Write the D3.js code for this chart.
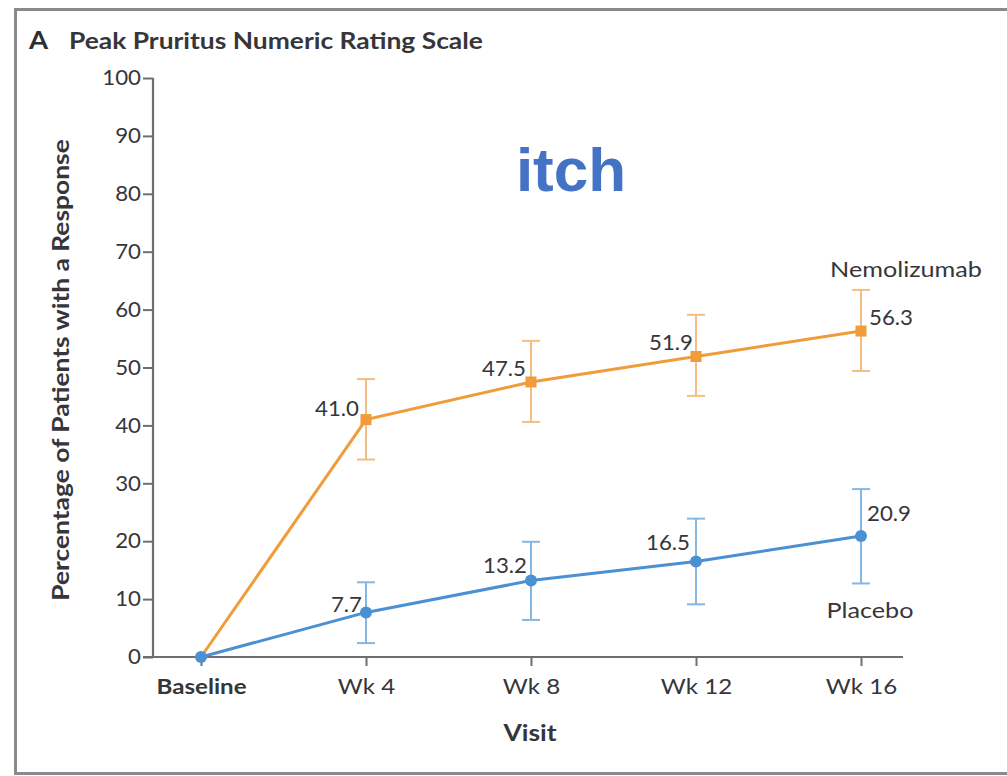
<!DOCTYPE html>
<html>
<head>
<meta charset="utf-8">
<script src="https://cdn.jsdelivr.net/npm/d3@7"></script>
<style>
  html, body { margin: 0; padding: 0; background: #fff; }
  svg { display: block; font-family: Lato, "Open Sans", sans-serif; }
</style>
</head>
<body>
<svg id="chart" width="1007" height="776"></svg>
<script>
// Visits on the x axis
const visits = ["Baseline", "Wk 4", "Wk 8", "Wk 12", "Wk 16"];

// Nemolizumab: response rate (%) and 95% CI bounds
const nemoValues = [0, 41.0, 47.5, 51.9, 56.3];
const nemoLower  = [null, 34.1, 40.6, 45.1, 49.4];
const nemoUpper  = [null, 48.0, 54.6, 59.1, 63.4];

// Placebo: response rate (%) and 95% CI bounds
const placeboValues = [0, 7.7, 13.2, 16.5, 20.9];
const placeboLower  = [null, 2.4, 6.4, 9.1, 12.7];
const placeboUpper  = [null, 12.9, 19.9, 23.9, 29.0];

const yTicks = [0, 10, 20, 30, 40, 50, 60, 70, 80, 90, 100];

const svg = d3.select("#chart");
const textColor = "#36363a";
const axisColor = "#6e6e72";
const orange = "#F09C3A", orangeLight = "#F5BE80";
const blue = "#4A90D2", blueLight = "#86B6E4";
const labelSize = 21;
const wordStretch = 1.2, digitStretch = 1.06;

// Widen glyphs horizontally while keeping each label's anchor point in place
function stretch(sel, k) {
  sel.each(function () {
    const t = d3.select(this);
    const x0 = +t.attr("x") || 0;
    t.attr("x", x0 / k).attr("transform", `scale(${k},1)`);
  });
}

// Panel frame
svg.append("path")
  .attr("d", "M1010,9.5 H15.5 V773.5 H1010")
  .attr("fill", "none").attr("stroke", "#8a8a8e").attr("stroke-width", 3);

// Panel title
svg.append("text").attr("x", 29).attr("y", 49)
  .attr("font-size", 25).attr("font-weight", 700).attr("fill", "#2e2e32").text("A")
  .call(stretch, 1.1);
svg.append("text").attr("x", 69).attr("y", 49)
  .attr("font-size", 22).attr("font-weight", 700)
  .attr("fill", textColor)
  .text("Peak Pruritus Numeric Rating Scale")
  .call(stretch, wordStretch);

const x = d3.scalePoint().domain(visits).range([201, 861]);
const y = d3.scaleLinear().domain([0, 100]).range([657, 78]);
const axisLeftX = 153, axisRightX = 903;

// Y axis
const yAxis = svg.append("g").attr("transform", `translate(${axisLeftX},0)`)
  .call(d3.axisLeft(y).tickValues(yTicks).tickSize(10).tickPadding(2));
yAxis.select(".domain").remove();
yAxis.append("line").attr("x1", 0).attr("x2", 0).attr("y1", y(0)).attr("y2", y(100))
  .attr("stroke", axisColor).attr("stroke-width", 2.2);
yAxis.selectAll(".tick line").attr("stroke", axisColor).attr("stroke-width", 2);
yAxis.selectAll(".tick text").attr("font-size", labelSize).attr("fill", textColor)
  .attr("font-family", "Lato, sans-serif")
  .call(stretch, digitStretch);

// X axis
const xAxis = svg.append("g").attr("transform", `translate(0,${y(0)})`)
  .call(d3.axisBottom(x).tickSize(9).tickPadding(13));
xAxis.select(".domain").remove();
xAxis.append("line").attr("x1", axisLeftX - 10).attr("x2", axisRightX).attr("y1", 0).attr("y2", 0)
  .attr("stroke", axisColor).attr("stroke-width", 2.2);
xAxis.selectAll(".tick line").attr("stroke", axisColor).attr("stroke-width", 2);
xAxis.selectAll(".tick text").attr("font-size", labelSize).attr("fill", textColor)
  .attr("font-family", "Lato, sans-serif")
  .attr("font-weight", d => d === "Baseline" ? 700 : 400)
  .call(stretch, 1.15);

// Axis titles
svg.append("text").attr("x", 530).attr("y", 741).attr("text-anchor", "middle")
  .attr("font-size", 22).attr("font-weight", 700)
  .attr("fill", textColor).text("Visit")
  .call(stretch, wordStretch);
svg.append("text")
  .attr("transform", `translate(69,370) rotate(-90) scale(${wordStretch},1)`)
  .attr("text-anchor", "middle").attr("font-size", 22).attr("font-weight", 700)
  .attr("fill", textColor).text("Percentage of Patients with a Response");

// Overlay word
svg.append("text").attr("x", 571).attr("y", 191).attr("text-anchor", "middle")
  .attr("font-family", "Liberation Sans, Arial, sans-serif")
  .attr("font-size", 62).attr("font-weight", 700).attr("fill", "#4472C4").text("itch");

function drawSeries(values, lower, upper, color, light, marker) {
  const pts = visits.map((v, i) => ({ v, val: values[i], lo: lower[i], hi: upper[i] }));
  const g = svg.append("g");
  // Error bars
  const eb = pts.filter(d => d.lo !== null);
  g.selectAll(".eb").data(eb).join("line")
    .attr("x1", d => x(d.v)).attr("x2", d => x(d.v))
    .attr("y1", d => y(d.lo)).attr("y2", d => y(d.hi))
    .attr("stroke", light).attr("stroke-width", 2);
  ["lo", "hi"].forEach(k => {
    g.selectAll(".cap-" + k).data(eb).join("line")
      .attr("x1", d => x(d.v) - 9).attr("x2", d => x(d.v) + 9)
      .attr("y1", d => y(d[k])).attr("y2", d => y(d[k]))
      .attr("stroke", light).attr("stroke-width", 2);
  });
  // Line
  g.append("path").datum(pts)
    .attr("d", d3.line().x(d => x(d.v)).y(d => y(d.val)))
    .attr("fill", "none").attr("stroke", color).attr("stroke-width", 3);
  // Markers
  if (marker === "square") {
    g.selectAll(".mk").data(pts.slice(1)).join("rect")
      .attr("x", d => x(d.v) - 5.5).attr("y", d => y(d.val) - 5.5)
      .attr("width", 11).attr("height", 11).attr("fill", color);
  } else {
    g.selectAll(".mk").data(pts).join("circle")
      .attr("cx", d => x(d.v)).attr("cy", d => y(d.val)).attr("r", 6).attr("fill", color);
  }
  return pts;
}

const nemoPts = drawSeries(nemoValues, nemoLower, nemoUpper, orange, orangeLight, "square");
const placPts = drawSeries(placeboValues, placeboLower, placeboUpper, blue, blueLight, "circle");

// Value labels
function valueLabels(pts, offsets) {
  pts.slice(1).forEach((d, i) => {
    const o = offsets[i];
    svg.append("text")
      .attr("x", x(d.v) + o[0]).attr("y", y(d.val) + o[1])
      .attr("text-anchor", o[2]).attr("font-size", labelSize)
      .attr("fill", textColor)
      .text(d.val.toFixed(1))
      .call(stretch, digitStretch);
  });
}
valueLabels(nemoPts, [[-7, -4, "end"], [-5, -6, "end"], [-3, -6, "end"], [8, -6, "start"]]);
valueLabels(placPts, [[-4, 0, "end"], [-4, -8, "end"], [-6, -11, "end"], [6, -15, "start"]]);

// Series names
svg.append("text").attr("x", 906).attr("y", 277).attr("text-anchor", "middle")
  .attr("font-size", labelSize).attr("fill", textColor).text("Nemolizumab")
  .call(stretch, wordStretch);
svg.append("text").attr("x", 870).attr("y", 618).attr("text-anchor", "middle")
  .attr("font-size", labelSize).attr("fill", textColor).text("Placebo")
  .call(stretch, wordStretch);
</script>
</body>
</html>
